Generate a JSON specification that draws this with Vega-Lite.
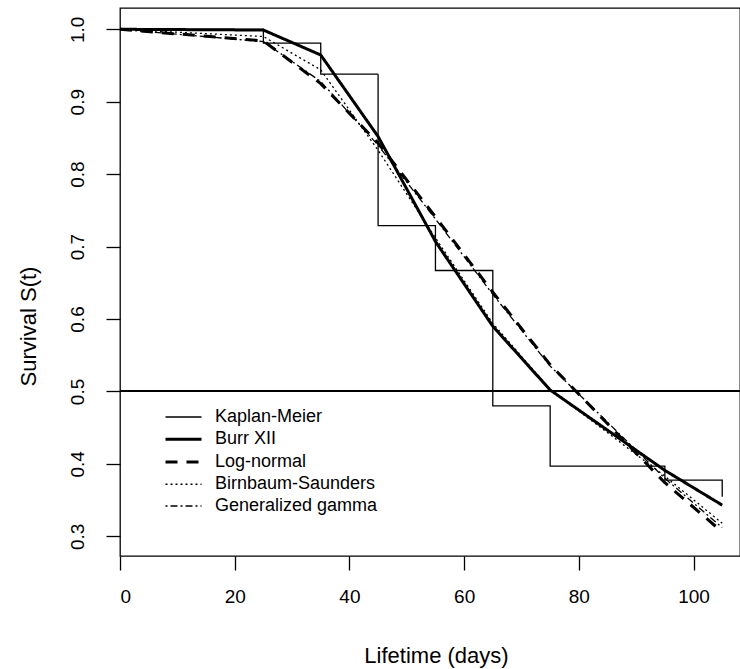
{
  "$schema": "https://vega.github.io/schema/vega-lite/v6.json",
  "width": 620,
  "height": 548,
  "autosize": "none",
  "padding": {"left": 120, "top": 8, "right": 0, "bottom": 113},
  "background": "white",
  "config": {
    "font": "Liberation Sans",
    "view": {"stroke": "black", "strokeWidth": 1.3},
    "axis": {"grid": false, "domain": false, "tickColor": "black", "tickSize": 14, "tickWidth": 1.3, "labelColor": "black", "titleColor": "black", "titleFontWeight": "normal", "labelFont": "Liberation Sans", "titleFont": "Liberation Sans"},
    "legend": {"orient": "none", "legendX": 53, "legendY": 399, "title": null, "padding": 0, "symbolType": "M-2,0L2,0", "symbolSize": 324, "symbolStrokeColor": "black", "symbolFillColor": "transparent", "labelFontSize": 18, "labelOffset": 21, "labelColor": "black", "labelFont": "Liberation Sans", "labelLimit": 0, "rowPadding": 2.75}
  },
  "datasets": {
    "surv": [
      {"series": "Kaplan-Meier", "i": 0, "t": 0, "s": 1.0},
      {"series": "Kaplan-Meier", "i": 1, "t": 25, "s": 1.0},
      {"series": "Kaplan-Meier", "i": 2, "t": 25, "s": 0.981},
      {"series": "Kaplan-Meier", "i": 3, "t": 35, "s": 0.981},
      {"series": "Kaplan-Meier", "i": 4, "t": 35, "s": 0.938},
      {"series": "Kaplan-Meier", "i": 5, "t": 45, "s": 0.938},
      {"series": "Kaplan-Meier", "i": 6, "t": 45, "s": 0.729},
      {"series": "Kaplan-Meier", "i": 7, "t": 55, "s": 0.729},
      {"series": "Kaplan-Meier", "i": 8, "t": 55, "s": 0.667},
      {"series": "Kaplan-Meier", "i": 9, "t": 65, "s": 0.667},
      {"series": "Kaplan-Meier", "i": 10, "t": 65, "s": 0.48},
      {"series": "Kaplan-Meier", "i": 11, "t": 75, "s": 0.48},
      {"series": "Kaplan-Meier", "i": 12, "t": 75, "s": 0.397},
      {"series": "Kaplan-Meier", "i": 13, "t": 95, "s": 0.397},
      {"series": "Kaplan-Meier", "i": 14, "t": 95, "s": 0.3775},
      {"series": "Kaplan-Meier", "i": 15, "t": 105, "s": 0.3775},
      {"series": "Kaplan-Meier", "i": 16, "t": 105, "s": 0.3545},
      {"series": "Burr XII", "i": 0, "t": 0, "s": 1.0},
      {"series": "Burr XII", "i": 1, "t": 25, "s": 0.999},
      {"series": "Burr XII", "i": 2, "t": 35, "s": 0.9645},
      {"series": "Burr XII", "i": 3, "t": 45, "s": 0.852},
      {"series": "Burr XII", "i": 4, "t": 55, "s": 0.707},
      {"series": "Burr XII", "i": 5, "t": 65, "s": 0.59},
      {"series": "Burr XII", "i": 6, "t": 75, "s": 0.502},
      {"series": "Burr XII", "i": 7, "t": 95, "s": 0.391},
      {"series": "Burr XII", "i": 8, "t": 105, "s": 0.343},
      {"series": "Log-normal", "i": 0, "t": 0, "s": 1.0},
      {"series": "Log-normal", "i": 1, "t": 25, "s": 0.984},
      {"series": "Log-normal", "i": 2, "t": 35, "s": 0.925},
      {"series": "Log-normal", "i": 3, "t": 45, "s": 0.843},
      {"series": "Log-normal", "i": 4, "t": 55, "s": 0.741},
      {"series": "Log-normal", "i": 5, "t": 65, "s": 0.637},
      {"series": "Log-normal", "i": 6, "t": 75, "s": 0.537},
      {"series": "Log-normal", "i": 7, "t": 95, "s": 0.374},
      {"series": "Log-normal", "i": 8, "t": 105, "s": 0.306},
      {"series": "Birnbaum-Saunders", "i": 0, "t": 0, "s": 1.0},
      {"series": "Birnbaum-Saunders", "i": 1, "t": 25, "s": 0.99},
      {"series": "Birnbaum-Saunders", "i": 2, "t": 35, "s": 0.944},
      {"series": "Birnbaum-Saunders", "i": 3, "t": 45, "s": 0.833},
      {"series": "Birnbaum-Saunders", "i": 4, "t": 55, "s": 0.712},
      {"series": "Birnbaum-Saunders", "i": 5, "t": 65, "s": 0.594},
      {"series": "Birnbaum-Saunders", "i": 6, "t": 75, "s": 0.503},
      {"series": "Birnbaum-Saunders", "i": 7, "t": 95, "s": 0.383},
      {"series": "Birnbaum-Saunders", "i": 8, "t": 105, "s": 0.318},
      {"series": "Generalized gamma", "i": 0, "t": 0, "s": 1.0},
      {"series": "Generalized gamma", "i": 1, "t": 25, "s": 0.983},
      {"series": "Generalized gamma", "i": 2, "t": 35, "s": 0.928},
      {"series": "Generalized gamma", "i": 3, "t": 45, "s": 0.84},
      {"series": "Generalized gamma", "i": 4, "t": 55, "s": 0.738},
      {"series": "Generalized gamma", "i": 5, "t": 65, "s": 0.634},
      {"series": "Generalized gamma", "i": 6, "t": 75, "s": 0.535},
      {"series": "Generalized gamma", "i": 7, "t": 95, "s": 0.38},
      {"series": "Generalized gamma", "i": 8, "t": 105, "s": 0.312}
    ]
  },
  "data": {"name": "surv"},
  "encoding": {
    "x": {"field": "t", "type": "quantitative", "scale": {"domain": [0, 108.1], "nice": false, "zero": false},
      "axis": {"values": [0, 20, 40, 60, 80, 100], "labelFontSize": 19, "labelPadding": 17, "labelBaseline": "top",
        "title": "Lifetime (days)", "titleFontSize": 22, "titleX": 316, "titleY": 99, "titleAlign": "center", "titleBaseline": "middle", "titleAnchor": "middle"}},
    "y": {"field": "s", "type": "quantitative", "scale": {"domain": [0.2728, 1.0294], "nice": false, "zero": false},
      "axis": {"values": [0.3, 0.4, 0.5, 0.6, 0.7, 0.8, 0.9, 1.0], "format": ".1f", "labelFontSize": 19, "labelAngle": -90, "labelAlign": "center", "labelBaseline": "alphabetic", "labelPadding": 23,
        "title": "Survival S(t)", "titleFontSize": 22, "titleX": -92, "titleY": 318, "titleAngle": -90, "titleAlign": "center", "titleBaseline": "middle", "titleAnchor": "middle"}}
  },
  "layer": [
    {
      "mark": {"type": "rule", "color": "black", "strokeWidth": 1.3},
      "encoding": {"y": {"datum": 0.5}, "x": {"datum": 0}, "x2": {"datum": 108.1}}
    },
    {
      "mark": {"type": "line", "color": "black"},
      "encoding": {
        "detail": {"field": "series"},
        "order": {"field": "i", "type": "quantitative"},
        "strokeDash": {"field": "series", "type": "nominal",
          "scale": {"domain": ["Kaplan-Meier", "Burr XII", "Log-normal", "Birnbaum-Saunders", "Generalized gamma"], "range": [[1, 0], [1, 0], [12, 9], [2, 3], [2, 3, 7, 3]]}},
        "strokeWidth": {"field": "series", "type": "nominal",
          "scale": {"type": "ordinal", "domain": ["Kaplan-Meier", "Burr XII", "Log-normal", "Birnbaum-Saunders", "Generalized gamma"], "range": [1.3, 3, 3, 1.3, 1.3]}}
      }
    }
  ]
}
